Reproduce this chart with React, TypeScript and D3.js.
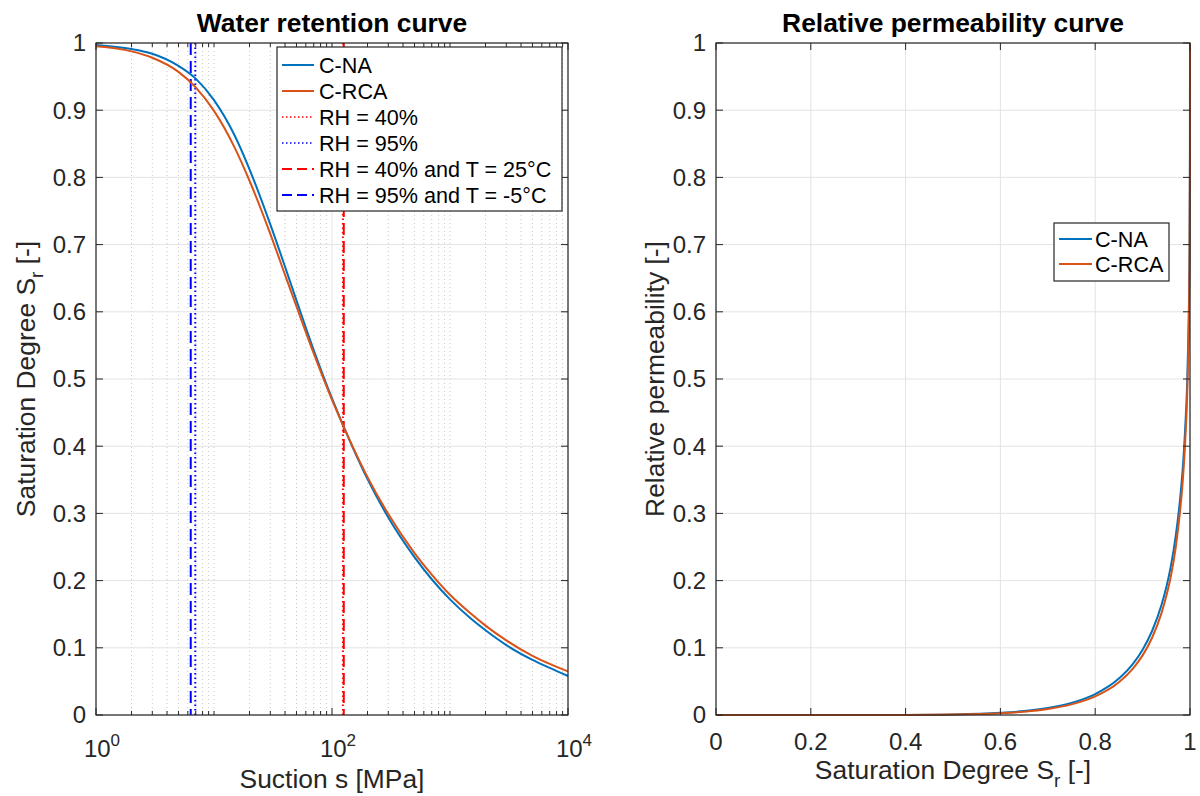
import React from "react";
import * as d3 from "d3";

// ---------- data ----------
const suction = [1, 2, 3, 5, 7, 10, 15, 20, 30, 40, 50, 70, 100, 150, 200, 300, 500, 700, 1000, 1500, 2000, 3000, 5000, 7000, 10000];
const srNA = [0.997, 0.991, 0.984, 0.966, 0.947, 0.915, 0.862, 0.812, 0.730, 0.667, 0.617, 0.543, 0.471, 0.398, 0.351, 0.294, 0.235, 0.202, 0.172, 0.1435, 0.126, 0.104, 0.082, 0.070, 0.058];
const srRCA = [0.995, 0.9875, 0.978, 0.957, 0.934, 0.899, 0.844, 0.795, 0.716, 0.655, 0.608, 0.538, 0.469, 0.399, 0.354, 0.299, 0.241, 0.209, 0.179, 0.151, 0.133, 0.111, 0.088, 0.076, 0.065];

const satDeg = [0, 0.1, 0.2, 0.3, 0.4, 0.5, 0.6, 0.65, 0.7, 0.75, 0.8, 0.85, 0.88, 0.9, 0.92, 0.94, 0.95, 0.96, 0.97, 0.98, 0.985, 0.99, 0.995, 0.999, 0.9999, 1];
const krNA = [0, 0, 0.000001, 0.000023, 0.00017, 0.00084, 0.0032, 0.0058, 0.0104, 0.0181, 0.0312, 0.0543, 0.0765, 0.0972, 0.125, 0.164, 0.190, 0.223, 0.267, 0.328, 0.370, 0.429, 0.520, 0.690, 0.841, 1];
const krRCA = [0, 0, 0.000001, 0.000016, 0.00013, 0.00067, 0.0027, 0.0049, 0.0089, 0.0158, 0.0277, 0.0488, 0.0695, 0.0887, 0.115, 0.152, 0.177, 0.208, 0.250, 0.310, 0.351, 0.409, 0.500, 0.671, 0.827, 1];

// suction limits [MPa] for the humidity / temperature conditions
const rhLines = [
  { label: "RH = 40%", s: 123.7, color: "#FF0000", dash: "1.5,3" },
  { label: "RH = 95%", s: 6.94, color: "#0000FF", dash: "1.5,3" },
  { label: "RH = 40% and T = 25\u00B0C", s: 125.8, color: "#FF0000", dash: "12,6" },
  { label: "RH = 95% and T = -5\u00B0C", s: 6.35, color: "#0000FF", dash: "12,6" },
];

const leftXTicks = [1, 100, 10000];
const leftXTickExp = ["0", "2", "4"];
const yTicks = [0, 0.1, 0.2, 0.3, 0.4, 0.5, 0.6, 0.7, 0.8, 0.9, 1];
const yTickLabels = ["0", "0.1", "0.2", "0.3", "0.4", "0.5", "0.6", "0.7", "0.8", "0.9", "1"];
const rightXTicks = [0, 0.2, 0.4, 0.6, 0.8, 1];
const rightXTickLabels = ["0", "0.2", "0.4", "0.6", "0.8", "1"];

const seriesNames = ["C-NA", "C-RCA"];
const seriesColors = ["#0072BD", "#D95319"];

// ---------- layout ----------
const FONT = "'Liberation Sans', Arial, Helvetica, sans-serif";
const AX = "#262626";
const GRID = "#e3e3e3";
const MINOR = "#c8c8c8";
const TOP = 43;
const BOTTOM = 715;
const L = { x0: 96, x1: 568 };
const R = { x0: 716, x1: 1190 };
const TICK = 7;
const MINORTICK = 4;

export default function App() {
  const xL = d3.scaleLog().domain([1, 10000]).range([L.x0, L.x1]);
  const xR = d3.scaleLinear().domain([0, 1]).range([R.x0, R.x1]);
  const y = d3.scaleLinear().domain([0, 1]).range([BOTTOM, TOP]);

  const minorLog: number[] = [];
  for (let e = 0; e < 4; e++) {
    for (let k = 1; k <= 9; k++) {
      const v = k * Math.pow(10, e);
      if (!leftXTicks.includes(v)) minorLog.push(v);
    }
  }

  const lineL = (ys: number[]) =>
    d3
      .line<number>()
      .x((_, i) => xL(suction[i]))
      .y((d) => y(d))
      .curve(d3.curveMonotoneX)(ys) as string;

  const lineR = (ys: number[]) =>
    d3
      .line<number>()
      .x((_, i) => xR(satDeg[i]))
      .y((d) => y(d))
      .curve(d3.curveMonotoneX)(ys) as string;

  const yAxisTicks = (x0: number, x1: number) =>
    yTicks.map((t, i) => (
      <g key={"yt" + i}>
        <line x1={x0} x2={x0 + TICK} y1={y(t)} y2={y(t)} stroke={AX} />
        <line x1={x1} x2={x1 - TICK} y1={y(t)} y2={y(t)} stroke={AX} />
        <text x={x0 - 10} y={y(t)} dy="0.35em" textAnchor="end" fontSize={24} fill={AX}>
          {yTickLabels[i]}
        </text>
      </g>
    ));

  const hGrid = (x0: number, x1: number) =>
    yTicks.map((t, i) => (
      <line key={"hg" + i} x1={x0} x2={x1} y1={y(t)} y2={y(t)} stroke={GRID} strokeWidth={1} />
    ));

  return (
    <svg
      width={1200}
      height={796}
      style={{ position: "absolute", left: 0, top: 0, background: "#fff" }}
      fontFamily={FONT}
    >
      <rect x={0} y={0} width={1200} height={796} fill="#fff" />

      {/* ================= LEFT: water retention ================= */}
      <g>
        {minorLog.map((v, i) => (
          <line key={"mg" + i} x1={xL(v)} x2={xL(v)} y1={TOP} y2={BOTTOM} stroke={MINOR} strokeWidth={1} strokeDasharray="1,3" />
        ))}
        {leftXTicks.map((v, i) => (
          <line key={"vg" + i} x1={xL(v)} x2={xL(v)} y1={TOP} y2={BOTTOM} stroke={GRID} strokeWidth={1} />
        ))}
        {hGrid(L.x0, L.x1)}

        {rhLines.map((r, i) => (
          <line key={"rh" + i} x1={xL(r.s)} x2={xL(r.s)} y1={TOP} y2={BOTTOM} stroke={r.color} strokeWidth={2} strokeDasharray={r.dash} />
        ))}

        <path d={lineL(srNA)} fill="none" stroke={seriesColors[0]} strokeWidth={2} />
        <path d={lineL(srRCA)} fill="none" stroke={seriesColors[1]} strokeWidth={2} />

        <rect x={L.x0} y={TOP} width={L.x1 - L.x0} height={BOTTOM - TOP} fill="none" stroke={AX} strokeWidth={1.2} />
        {leftXTicks.map((v, i) => (
          <g key={"xt" + i}>
            <line x1={xL(v)} x2={xL(v)} y1={BOTTOM} y2={BOTTOM - TICK} stroke={AX} />
            <line x1={xL(v)} x2={xL(v)} y1={TOP} y2={TOP + TICK} stroke={AX} />
            <text x={xL(v) + 6} y={757} textAnchor="middle" fontSize={24} fill={AX}>
              10
              <tspan fontSize={17} dy={-11}>
                {leftXTickExp[i]}
              </tspan>
            </text>
          </g>
        ))}
        {minorLog.map((v, i) => (
          <g key={"mt" + i}>
            <line x1={xL(v)} x2={xL(v)} y1={BOTTOM} y2={BOTTOM - MINORTICK} stroke={AX} />
            <line x1={xL(v)} x2={xL(v)} y1={TOP} y2={TOP + MINORTICK} stroke={AX} />
          </g>
        ))}
        {yAxisTicks(L.x0, L.x1)}

        <text x={(L.x0 + L.x1) / 2} y={32} textAnchor="middle" fontSize={26.4} fontWeight="bold" fill="#000">
          Water retention curve
        </text>
        <text x={(L.x0 + L.x1) / 2} y={788} textAnchor="middle" fontSize={26.4} fill={AX}>
          Suction s [MPa]
        </text>
        <text transform={`translate(35,${(TOP + BOTTOM) / 2}) rotate(-90)`} textAnchor="middle" fontSize={26.4} fill={AX}>
          Saturation Degree S
          <tspan fontSize={19} dy={8}>r</tspan>
          <tspan dy={-8}> [-]</tspan>
        </text>

        {/* legend */}
        <g>
          <rect x={277} y={47} width={285} height={164} fill="#fff" stroke={AX} strokeWidth={1.2} />
          {seriesNames.map((n, i) => (
            <g key={"lg" + i}>
              <line x1={282} x2={314} y1={65 + i * 26} y2={65 + i * 26} stroke={seriesColors[i]} strokeWidth={2} />
              <text x={319} y={65 + i * 26} dy="0.35em" fontSize={21.6} fill="#000">
                {n}
              </text>
            </g>
          ))}
          {rhLines.map((r, i) => (
            <g key={"lr" + i}>
              <line x1={282} x2={314} y1={117 + i * 26} y2={117 + i * 26} stroke={r.color} strokeWidth={r.dash === "12,6" ? 2 : 1.5} strokeDasharray={r.dash === "12,6" ? "10,5" : "1.5,2.5"} />
              <text x={319} y={117 + i * 26} dy="0.35em" fontSize={21.6} fill="#000">
                {r.label}
              </text>
            </g>
          ))}
        </g>
      </g>

      {/* ================= RIGHT: relative permeability ================= */}
      <g>
        {rightXTicks.map((v, i) => (
          <line key={"rvg" + i} x1={xR(v)} x2={xR(v)} y1={TOP} y2={BOTTOM} stroke={GRID} strokeWidth={1} />
        ))}
        {hGrid(R.x0, R.x1)}

        <path d={lineR(krNA)} fill="none" stroke={seriesColors[0]} strokeWidth={2} />
        <path d={lineR(krRCA)} fill="none" stroke={seriesColors[1]} strokeWidth={2} />

        <rect x={R.x0} y={TOP} width={R.x1 - R.x0} height={BOTTOM - TOP} fill="none" stroke={AX} strokeWidth={1.2} />
        {rightXTicks.map((v, i) => (
          <g key={"rxt" + i}>
            <line x1={xR(v)} x2={xR(v)} y1={BOTTOM} y2={BOTTOM - TICK} stroke={AX} />
            <line x1={xR(v)} x2={xR(v)} y1={TOP} y2={TOP + TICK} stroke={AX} />
            <text x={xR(v)} y={750} textAnchor="middle" fontSize={24} fill={AX}>
              {rightXTickLabels[i]}
            </text>
          </g>
        ))}
        {yAxisTicks(R.x0, R.x1)}

        <text x={(R.x0 + R.x1) / 2} y={32} textAnchor="middle" fontSize={26.4} fontWeight="bold" fill="#000">
          Relative permeability curve
        </text>
        <text x={(R.x0 + R.x1) / 2} y={779} textAnchor="middle" fontSize={26.4} fill={AX}>
          Saturation Degree S
          <tspan fontSize={19} dy={8}>r</tspan>
          <tspan dy={-8}> [-]</tspan>
        </text>
        <text transform={`translate(664,${(TOP + BOTTOM) / 2}) rotate(-90)`} textAnchor="middle" fontSize={26.4} fill={AX}>
          Relative permeability [-]
        </text>

        <g>
          <rect x={1054} y={223} width={115} height={58} fill="#fff" stroke={AX} strokeWidth={1.2} />
          {seriesNames.map((n, i) => (
            <g key={"rlg" + i}>
              <line x1={1059} x2={1092} y1={239 + i * 25} y2={239 + i * 25} stroke={seriesColors[i]} strokeWidth={2} />
              <text x={1095} y={239 + i * 25} dy="0.35em" fontSize={21.6} fill="#000">
                {n}
              </text>
            </g>
          ))}
        </g>
      </g>
    </svg>
  );
}
